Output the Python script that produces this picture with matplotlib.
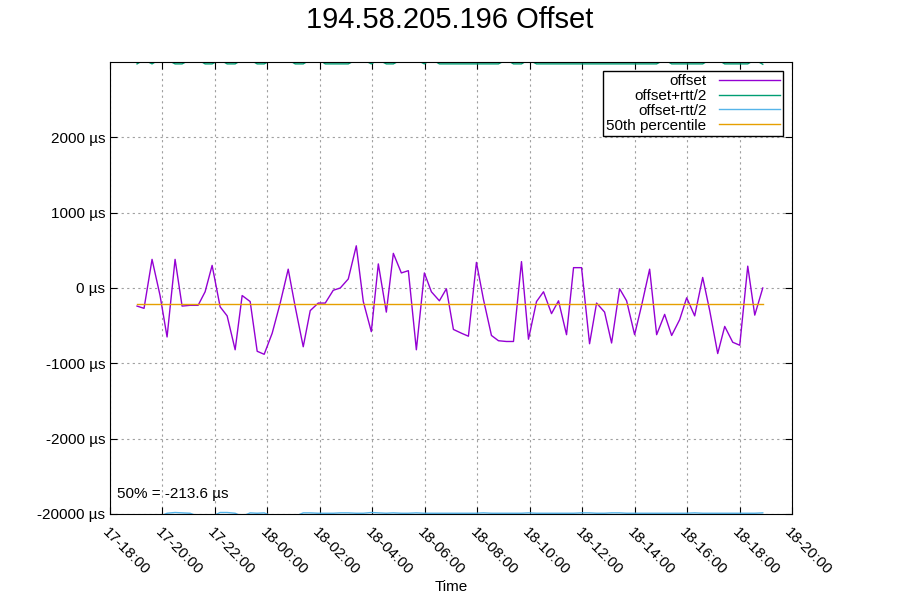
import numpy as np
import matplotlib
matplotlib.use("Agg")
import matplotlib.pyplot as plt

plt.rcParams["font.family"] = "Liberation Sans"

# sample times, hours after 17-18:00
px = [137, 144, 152, 160, 167, 175, 182, 190, 198, 205, 212, 220, 227, 235, 242, 250, 257, 264,
      272, 280, 288, 295, 303, 310, 318, 325, 333, 340, 348, 356, 363, 371, 378, 386, 393, 401,
      408, 416, 424, 431, 439, 446, 453, 461, 468, 476, 483, 491, 498, 506, 513, 521, 528, 536,
      543, 551, 558, 566, 573, 581, 589, 596, 604, 611, 619, 626, 634, 641, 649, 656, 664, 671,
      679, 686, 694, 702, 709, 717, 724, 732, 739, 747, 754, 762]
hours = [(p - 110) / 26.2 for p in px]

offset = [-240, -270, 380, -100, -650, 380, -240, -230, -230, -50, 300, -250, -370, -820, -100,
          -180, -840, -880, -600, -200, 250, -250, -780, -300, -200, -200, -30, 0, 120, 560, -180,
          -580, 320, -320, 460, 200, 230, -820, 200, -50, -170, -10, -550, -600, -640, 340, -150,
          -630, -700, -710, -710, 350, -680, -180, -50, -340, -170, -620, 270, 270, -740, -200,
          -320, -730, -10, -170, -620, -230, 250, -620, -350, -630, -420, -130, -370, 140, -300,
          -870, -510, -720, -760, 290, -360, 0]
# offset +/- rtt/2 sit just past the plot edges (clipped)
plus = [2975, 3030, 2975, 3040, 3030, 2975, 2975, 3030, 3030, 2975, 2975, 3030, 2975, 2975,
        3030, 3030, 2975, 2975, 3030, 3030, 3030, 2975, 2975, 3030, 3040, 2975, 2975, 2975,
        2975, 3030, 3030, 2975, 3030, 2975, 2975, 3030, 3030, 3030, 2975, 3040, 2975, 2975,
        2975, 2975, 2975, 2975, 2975, 2975, 2975, 3030, 2975, 2975, 3030, 2975, 2975, 2975,
        2975, 2975, 2975, 2975, 2975, 2975, 2975, 2975, 2975, 2975, 2975, 2975, 2975, 2975,
        3030, 2975, 2975, 2975, 2975, 2975, 3030, 3030, 2975, 2975, 2975, 2975, 3030, 2970]
minus = [-3030, -3030, -3030, -3030, -2990, -2980, -2985, -2990, -3030, -3030, -3030, -2980,
         -2980, -2990, -3030, -2985, -2990, -2985, -3030, -3030, -3030, -3030, -2985, -2985,
         -2990, -2990, -2990, -2985, -2985, -2990, -2990, -2980, -2985, -2990, -2985, -2990,
         -2990, -2985, -2990, -2990, -2990, -2990, -2990, -2990, -2990, -2990, -2985, -2990,
         -2990, -2990, -2990, -2990, -2985, -2990, -2990, -2990, -2990, -2990, -2990, -2985,
         -2985, -2990, -2990, -2985, -2985, -2990, -2990, -2990, -2990, -2990, -2990, -2990,
         -2990, -2990, -2985, -2990, -2990, -2990, -2990, -2990, -2990, -2990, -2990, -2985]
p50 = -213.6

xtick_labels = ["17-18:00", "17-20:00", "17-22:00", "18-00:00", "18-02:00", "18-04:00",
                "18-06:00", "18-08:00", "18-10:00", "18-12:00", "18-14:00", "18-16:00",
                "18-18:00", "18-20:00"]
ytick_vals = [-3000, -2000, -1000, 0, 1000, 2000]
ytick_labels = ["-20000 µs", "-2000 µs", "-1000 µs", "0 µs", "1000 µs", "2000 µs"]

fig = plt.figure(figsize=(9, 6), dpi=100)
ax = fig.add_axes([110 / 900, 1 - 514 / 600, 682 / 900, 452 / 600])

ax.plot(hours, offset, color="#9400d3", lw=1, label="offset")
ax.plot(hours, plus, color="#009e73", lw=1, label="offset+rtt/2")
ax.plot(hours, minus, color="#56b4e9", lw=1, label="offset-rtt/2")
ax.plot([hours[0], hours[-1]], [p50, p50], color="#e69f00", lw=1, label="50th percentile")

ax.set_xlim(0, 26)
ax.set_ylim(-3000, 3000)
ax.set_xticks(np.arange(0, 27, 2))
ax.set_xticklabels(xtick_labels, rotation=-45, ha="left", va="top", fontsize=11,
                   rotation_mode="anchor")
ax.set_yticks(ytick_vals)
ax.set_yticklabels(ytick_labels, fontsize=11)
ax.tick_params(direction="in", length=5, top=True, right=True, labeltop=False, labelright=False)
ax.tick_params(axis="x", pad=8)
ax.grid(True, color="#a0a0a0", ls=(0, (2, 3)), lw=0.8)
ax.set_xlabel("Time", fontsize=11, labelpad=2)

ax.text(0.01, 0.035, "50% = -213.6 µs", transform=ax.transAxes, fontsize=11)
fig.suptitle("194.58.205.196 Offset", fontsize=21, y=0.99)

leg = ax.legend(loc="upper right", markerfirst=False, fontsize=11, fancybox=False,
                framealpha=1, edgecolor="black", borderpad=0.2, labelspacing=0.05,
                handlelength=4, handletextpad=0.8, borderaxespad=0.6)
leg.get_frame().set_linewidth(1)
for t in leg.get_texts():
    t.set_ha("right")

fig.savefig("out.png")
